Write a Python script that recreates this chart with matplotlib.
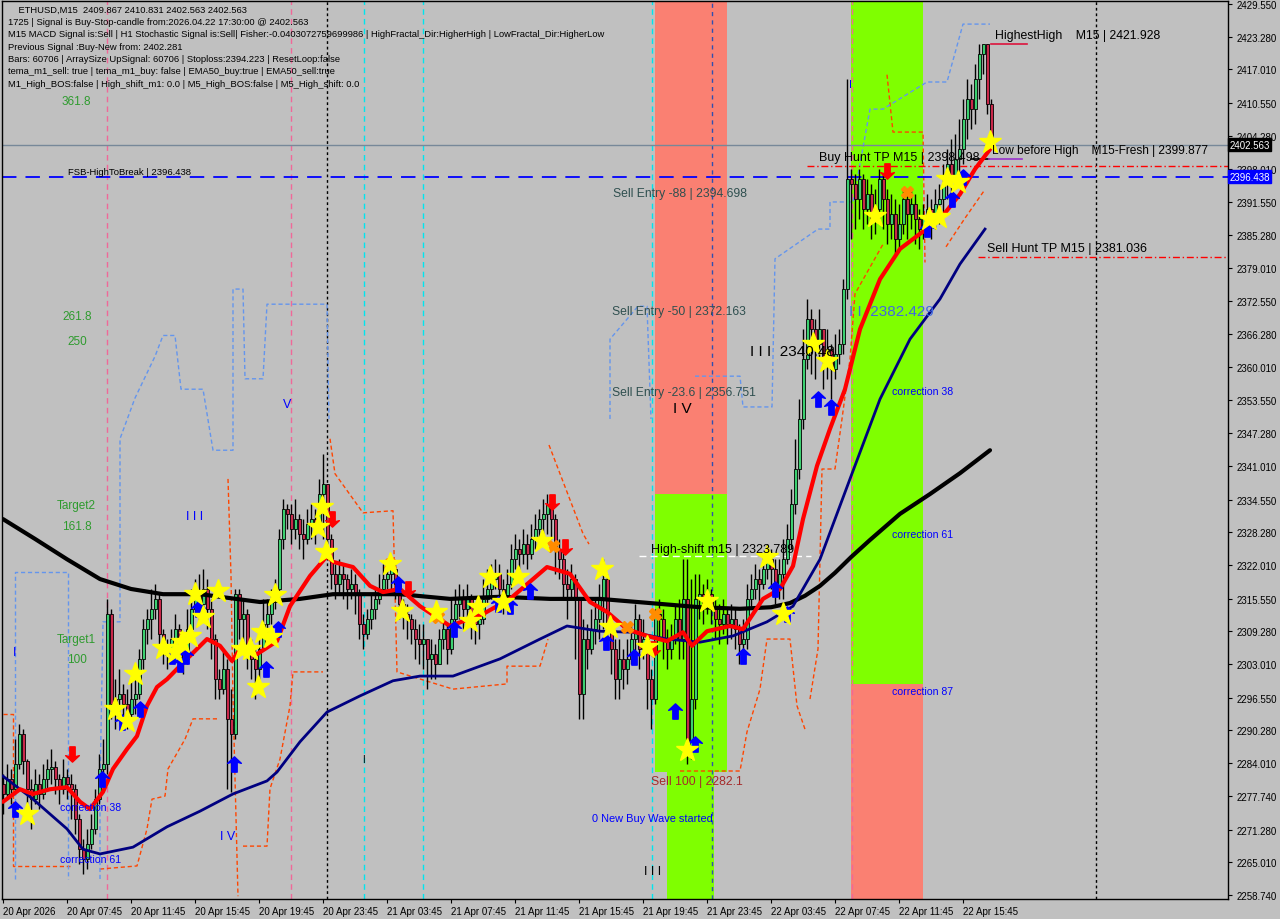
import matplotlib
matplotlib.use("Agg")
import matplotlib.pyplot as plt
from matplotlib.path import Path
import numpy as np

# ---------------- data ----------------
first_open = 2280.0
close = [2278.1,2281.0,2279.0,2283.8,2289.6,2284.4,2279.0,2277.1,2280.0,2278.1,2281.0,2282.9,2283.3,2281.0,2279.0,2281.4,
2280.0,2279.0,2273.3,2267.5,2265.6,2268.5,2271.4,2277.1,2282.9,2283.8,2312.6,2295.3,2296.3,2297.3,2295.3,2293.4,
2296.3,2297.3,2304.0,2309.7,2311.6,2313.6,2315.5,2308.8,2305.9,2304.9,2307.8,2309.7,2306.9,2304.0,2309.7,2313.6,
2316.4,2314.5,2317.4,2313.6,2307.8,2300.1,2298.2,2302.1,2292.5,2289.6,2316.4,2311.6,2312.6,2305.9,2304.0,2302.1,
2305.9,2310.7,2312.6,2315.5,2317.4,2327.0,2332.7,2331.8,2328.9,2330.8,2327.9,2327.0,2329.9,2330.8,2329.9,2335.6,
2337.5,2327.0,2320.3,2318.4,2320.3,2319.3,2317.4,2318.4,2316.4,2310.7,2308.8,2311.6,2313.6,2315.5,2317.4,2319.3,
2320.3,2321.2,2318.4,2314.5,2312.6,2311.6,2309.7,2307.8,2306.9,2307.8,2304.0,2304.9,2303.0,2307.8,2309.7,2305.9,
2311.6,2314.5,2315.5,2313.6,2315.5,2312.6,2310.7,2311.6,2315.5,2317.4,2319.3,2320.3,2317.4,2315.5,2318.4,2323.1,
2325.1,2324.1,2326.0,2324.1,2327.0,2328.9,2330.8,2331.8,2333.7,2330.8,2325.1,2323.1,2318.4,2317.4,2319.3,2315.5,
2297.3,2307.8,2305.9,2309.7,2311.6,2315.5,2319.3,2309.7,2305.9,2300.1,2304.0,2302.1,2304.0,2307.8,2311.6,2305.9,
2307.8,2300.1,2296.3,2312.6,2311.6,2307.8,2305.9,2307.8,2311.6,2307.8,2315.5,2286.7,2296.3,2315.5,2316.4,2314.5,
2316.4,2313.6,2311.6,2310.7,2312.6,2310.7,2311.6,2309.7,2306.9,2307.8,2315.5,2317.4,2319.3,2318.4,2321.2,2323.1,
2321.2,2317.4,2320.3,2323.1,2327.0,2333.7,2340.4,2350.0,2361.5,2369.2,2367.2,2364.4,2367.2,2361.5,2363.4,2359.6,
2362.4,2364.4,2374.9,2396.0,2395.0,2392.2,2396.0,2390.2,2393.1,2388.3,2390.2,2396.0,2392.2,2387.4,2389.3,2384.5,
2387.4,2392.2,2389.3,2391.2,2388.3,2386.4,2388.3,2390.2,2389.3,2391.2,2392.2,2395.0,2398.9,2396.0,2399.8,2401.7,
2407.5,2411.3,2409.4,2415.2,2420.0,2421.9,2410.4,2402.6]
high = [2281.9,2283.8,2282.9,2288.6,2291.5,2290.5,2284.8,2281.0,2282.9,2281.9,2283.8,2284.8,2286.7,2284.4,2281.9,2284.8,
2282.9,2281.9,2280.0,2274.3,2269.5,2271.4,2274.3,2279.0,2285.8,2288.6,2315.5,2313.6,2300.1,2302.1,2299.2,2298.2,
2300.1,2301.1,2305.9,2311.6,2313.6,2317.4,2318.4,2316.4,2309.7,2307.8,2309.7,2312.6,2310.7,2307.8,2313.6,2317.4,
2319.3,2320.3,2321.2,2319.3,2315.5,2308.8,2302.1,2305.9,2304.0,2298.2,2317.4,2317.4,2315.5,2313.6,2307.8,2305.9,
2309.7,2315.5,2315.5,2317.4,2319.3,2328.9,2334.7,2333.7,2333.7,2334.7,2331.8,2330.8,2332.7,2333.7,2332.7,2338.5,
2343.3,2337.5,2327.9,2322.2,2323.1,2322.2,2320.3,2321.2,2320.3,2317.4,2312.6,2313.6,2316.4,2317.4,2320.3,2322.2,
2323.1,2323.1,2322.2,2319.3,2315.5,2314.5,2312.6,2311.6,2310.7,2310.7,2307.8,2307.8,2306.9,2309.7,2311.6,2310.7,
2315.5,2317.4,2318.4,2317.4,2318.4,2316.4,2314.5,2315.5,2319.3,2321.2,2322.2,2323.1,2322.2,2319.3,2321.2,2326.0,
2327.9,2327.0,2328.9,2327.9,2329.9,2331.8,2332.7,2334.7,2335.6,2334.7,2331.8,2327.0,2325.1,2321.2,2322.2,2320.3,
2315.5,2311.6,2310.7,2313.6,2315.5,2318.4,2323.1,2320.3,2311.6,2307.8,2307.8,2305.9,2307.8,2310.7,2314.5,2312.6,
2311.6,2308.8,2302.1,2313.6,2315.5,2313.6,2309.7,2310.7,2314.5,2315.5,2323.1,2323.1,2319.3,2320.3,2320.3,2318.4,
2319.3,2317.4,2315.5,2314.5,2315.5,2313.6,2314.5,2313.6,2310.7,2311.6,2318.4,2320.3,2322.2,2321.2,2324.1,2326.0,
2325.1,2323.1,2323.1,2327.0,2329.9,2336.6,2346.2,2353.8,2367.2,2373.0,2371.1,2369.2,2371.1,2366.3,2367.2,2364.4,
2366.3,2367.2,2376.8,2415.2,2397.9,2397.0,2397.9,2397.0,2396.0,2395.0,2394.1,2397.9,2397.0,2394.1,2393.1,2392.2,
2391.2,2394.1,2393.1,2394.1,2393.1,2390.2,2391.2,2393.1,2392.2,2394.1,2395.0,2398.9,2401.7,2403.7,2404.6,2407.5,
2411.3,2415.2,2414.2,2418.0,2421.9,2421.9,2421.9,2411.3]
low = [2274.3,2277.1,2276.2,2278.1,2282.9,2281.9,2273.3,2271.4,2276.2,2275.2,2277.1,2279.0,2280.0,2278.1,2276.2,2278.1,
2277.1,2273.3,2270.4,2264.7,2262.8,2263.7,2267.5,2270.4,2276.2,2281.0,2281.9,2292.5,2290.5,2293.4,2291.5,2290.5,
2292.5,2293.4,2296.3,2302.1,2306.9,2307.8,2311.6,2305.9,2303.0,2302.1,2304.0,2305.9,2303.0,2301.1,2303.0,2307.8,
2312.6,2310.7,2313.6,2309.7,2304.0,2296.3,2296.3,2297.3,2279.0,2278.5,2288.6,2307.8,2305.9,2302.1,2300.1,2296.3,
2300.1,2305.9,2307.8,2310.7,2313.6,2315.5,2325.1,2328.9,2326.0,2327.0,2325.1,2323.1,2326.0,2327.0,2326.0,2328.9,
2327.0,2323.1,2317.4,2315.5,2316.4,2315.5,2313.6,2315.5,2312.6,2307.8,2305.9,2307.8,2309.7,2311.6,2314.5,2316.4,
2317.4,2317.4,2315.5,2311.6,2309.7,2307.8,2306.9,2304.0,2303.0,2302.1,2298.2,2300.1,2300.1,2303.0,2305.9,2303.0,
2304.9,2310.7,2311.6,2309.7,2311.6,2307.8,2306.9,2307.8,2310.7,2314.5,2315.5,2317.4,2314.5,2312.6,2314.5,2317.4,
2321.2,2320.3,2322.2,2321.2,2323.1,2325.1,2326.0,2327.0,2327.9,2327.0,2320.3,2319.3,2315.5,2311.6,2315.5,2304.0,
2292.5,2292.5,2302.1,2304.9,2306.9,2307.8,2309.7,2305.9,2301.1,2296.3,2296.3,2298.2,2299.2,2303.0,2304.0,2302.1,
2304.0,2294.4,2290.5,2295.3,2307.8,2304.0,2302.1,2304.0,2306.9,2304.0,2304.0,2283.8,2284.8,2294.4,2311.6,2310.7,
2312.6,2310.7,2307.8,2306.9,2308.8,2306.9,2307.8,2305.9,2303.0,2304.0,2305.9,2313.6,2315.5,2314.5,2317.4,2319.3,
2317.4,2314.5,2315.5,2315.5,2322.2,2325.1,2331.8,2338.5,2348.1,2359.6,2358.6,2357.7,2361.5,2355.7,2357.7,2353.8,
2357.7,2360.5,2362.4,2373.0,2384.5,2386.4,2388.3,2386.4,2387.4,2384.5,2385.5,2387.4,2386.4,2383.5,2384.5,2381.6,
2382.6,2385.5,2384.5,2386.4,2383.5,2382.6,2384.5,2385.5,2384.5,2386.4,2387.4,2389.3,2392.2,2392.2,2394.1,2397.0,
2398.9,2403.7,2405.6,2406.5,2411.3,2416.1,2408.5,2401.7]

# moving averages read at sample bars
red_ma_bar = [0,4.25,7.5,11.75,16,19.25,21.75,25,27.5,31,33.5,36,38.5,41,46,51,54.25,57.25,59.25,63.5,68.5,71.75,76.75,81,82.5,87.5,91.75,95,99.25,104.25,111.75,120,126.75,136,141.75,146.75,151,156,161,166,170,172.25,176,181.75,185,190,194.25,197.5,200,203.5,206.75,210.5,214.25,219.25,224.25,229.25,234.25,239.25,243,246.75]
red_ma_val = [2276.6,2279.0,2278.1,2279.0,2279.4,2276.6,2275.2,2278.5,2282.9,2286.7,2289.2,2295.0,2298.6,2300.1,2304.0,2307.8,2306.5,2303.6,2305.9,2304.9,2307.4,2314.1,2319.9,2323.7,2322.6,2321.6,2318.0,2316.8,2317.4,2314.1,2310.3,2312.6,2315.5,2321.6,2320.3,2314.9,2313.0,2309.7,2308.4,2307.4,2309.1,2306.5,2309.3,2310.3,2309.7,2315.5,2317.4,2321.8,2330.8,2341.0,2348.1,2355.7,2367.2,2376.8,2382.6,2385.5,2388.3,2393.1,2397.9,2401.7]
navy_ma_bar = [0,7.5,16,20,24.25,32.5,41,49.25,57.5,66,68.5,74.25,81,89.25,97.5,104.25,112.5,124.25,134.25,141,149.25,157.5,166,174.25,182.5,191,197.5,204.25,211.75,219.25,226.75,234.25,239.25,245.5]
navy_ma_val = [2281.5,2277.1,2271.4,2267.5,2266.6,2267.9,2271.8,2274.8,2278.1,2280.6,2282.3,2288.1,2293.8,2296.9,2299.8,2300.7,2300.7,2304.0,2307.8,2310.3,2309.3,2309.1,2307.8,2307.2,2308.4,2311.1,2314.1,2323.1,2338.5,2353.8,2365.3,2373.0,2379.7,2386.4]
black_ma_bar = [0,8,16,24.25,32,40,49.25,64.25,74.25,82.5,99.25,111.75,124.25,136.75,149.25,161.75,174.25,184.25,192,196.75,200.5,204.25,208,212,216.75,224.25,231.75,239.25,246.75]
black_ma_val = [2330.8,2327.0,2323.1,2319.3,2317.4,2316.4,2316.4,2314.9,2315.5,2316.4,2316.4,2315.5,2315.9,2315.5,2315.5,2314.7,2313.9,2313.6,2313.9,2314.7,2316.1,2318.0,2320.5,2323.5,2326.8,2331.8,2335.6,2339.6,2344.0]

# step bands (bar, price)
orange_paths = [
    [(0,2293.4),(2.5,2293.4),(2.5,2264.3),(16.75,2264.3)],
    [(24.25,2263.7),(33.5,2264.3),(36,2271.4),(37.25,2277.1),(40.5,2277.7),(41.25,2282.9),(45.5,2288.6),(47.5,2292.5),(53.5,2292.5)],
    [(56.25,2338.5),(57.0,2320.0),(57.5,2296.3),(58.75,2258.5)],
    [(60,2268.1),(66,2268.1),(66.75,2279.1),(69.25,2284.8),(71.75,2295.0),(72.5,2301.5),(80,2301.5)],
    [(81.75,2346.2),(83,2339.5),(90,2332.0),(97.5,2332.4),(98.5,2301.5),(112.5,2298.2),(126,2299.2),(126,2302.6),(134.25,2302.6),(136.25,2307.8)],
    [(136.5,2345.0),(140,2338.0),(145,2328.0),(146.5,2326.0)],
    [(169.25,2282.5),(184.25,2282.5),(186,2290.0),(189.25,2298.2),(191,2307.8),(196.75,2307.8),(198.5,2295.0),(200.5,2290.5)],
    [(201.75,2296.3),(203.75,2305.9),(204.75,2340.4),(208,2340.4),(209.75,2350.0),(211.75,2361.5),(213,2374.0),(220,2383.5)],
    [(221,2416.0),(222.5,2405.0),(224,2405.0),(230,2405.0),(230.5,2380.0)],
    [(235.75,2383.0),(240.5,2388.5),(245.5,2394.0)],
]
blue_paths = [
    [(3,2261.8),(3,2320.7),(16.25,2320.7),(16.25,2261.8)],
    [(24.25,2261.8),(24.25,2279.6),(25,2311.1),(29.25,2311.1),(29.25,2346.2),(33,2354.0),(38,2362.0),(40,2366.0),(43,2366.0),(44.5,2355.7),(50,2355.7),(52.5,2344.0),(57.5,2344.0),(57.5,2374.9),(60,2374.9),(60.5,2357.7),(65,2357.7),(66,2372.0),(81,2372.0),(81.5,2350.0)],
    [(151.75,2350.0),(151.75,2365.3),(158.75,2371.6),(161,2371.6),(162,2350.0)],
    [(173,2358.2),(184.25,2358.2),(185,2352.3),(192.25,2352.3),(193,2380.7),(203.75,2386.4),(206.75,2386.4),(206.75,2391.6),(212.5,2391.6),(216.75,2409.4),(220,2409.4),(231,2414.6),(236,2414.6),(240,2425.7),(246.75,2425.7)],
]

stars_bar = [6,28,31,33,40,43,44.75,46.75,48,50,53.75,59.75,61.75,63.75,64.75,67,68,78.75,79.75,80.75,96.75,99.75,108.25,116.75,118.75,121.75,125,128.75,134.75,149.75,151.75,161,171,176,191,195,202.5,206,218,231.5,234,236,238.75,246.75]
stars_val = [2274.3,2294.4,2292.1,2301.1,2306.0,2305.4,2307.2,2308.4,2316.4,2312.0,2317.0,2305.9,2305.9,2298.6,2309.1,2308.2,2316.2,2329.3,2333.1,2324.5,2322.2,2313.2,2313.0,2311.3,2314.0,2319.7,2314.9,2319.7,2326.6,2321.2,2310.1,2306.3,2286.5,2315.1,2323.5,2312.6,2364.4,2361.1,2388.9,2388.3,2388.7,2396.0,2395.4,2403.1]
up_bar = [3,24.75,29.75,34.25,42.25,44.25,45.75,48.75,57.75,65.75,68.75,98.75,112.75,123.75,126.75,131.75,150.75,157.75,168,173,185,193,196,203.75,207,231,237.25,240]
up_val = [2275.2,2281.0,2291.9,2294.4,2304.6,2303.0,2304.6,2313.6,2283.8,2302.1,2309.7,2318.4,2309.7,2314.5,2314.1,2317.0,2307.2,2304.4,2294.0,2287.7,2304.6,2317.4,2312.6,2353.8,2352.3,2386.4,2392.2,2396.4]
down_bar = [17.25,82.25,137.25,140.5,101.25,162.5,221]
down_val = [2285.8,2330.8,2334.1,2325.4,2317.4,2305.9,2397.5]
x_bar = [96.75,108.75,137.5,156,163,226]
x_val = [2322.2,2312.0,2325.7,2310.1,2312.6,2393.5]

yticks = [2429.550,2423.280,2417.010,2410.550,2404.280,2398.010,2391.550,2385.280,2379.010,2372.550,2366.280,
          2360.010,2353.550,2347.280,2341.010,2334.550,2328.280,2322.010,2315.550,2309.280,2303.010,2296.550,
          2290.280,2284.010,2277.740,2271.280,2265.010,2258.740]
xtick_bars = [0,16,32,48,64,80,96,112,128,144,160,176,192,208,224,240]
xtick_labels = ["20 Apr 2026","20 Apr 07:45","20 Apr 11:45","20 Apr 15:45","20 Apr 19:45","20 Apr 23:45",
                "21 Apr 03:45","21 Apr 07:45","21 Apr 11:45","21 Apr 15:45","21 Apr 19:45","21 Apr 23:45",
                "22 Apr 03:45","22 Apr 07:45","22 Apr 11:45","22 Apr 15:45"]

info_lines = [
    "    ETHUSD,M15  2409.867 2410.831 2402.563 2402.563",
    "1725 | Signal is Buy-Stop-candle from:2026.04.22 17:30:00 @ 2402.563",
    "M15 MACD Signal is:Sell | H1 Stochastic Signal is:Sell| Fisher:-0.0403072759699986 | HighFractal_Dir:HigherHigh | LowFractal_Dir:HigherLow",
    "Previous Signal :Buy-New from: 2402.281",
    "Bars: 60706 | ArraySize UpSignal: 60706 | Stoploss:2394.223 | ResetLoop:false",
    "tema_m1_sell: true | tema_m1_buy: false | EMA50_buy:true | EMA50_sell:true",
    "M1_High_BOS:false | High_shift_m1: 0.0 | M5_High_BOS:false | M5_High_shift: 0.0",
]

bid = 2402.563
fsb = 2396.438
buy_tp = 2398.498
sell_tp = 2381.036
high_shift = 2323.789
highest_high = 2421.928
low_before_high = 2399.877

# ---------------- figure ----------------
BG = "#C0C0C0"
FONT = "Liberation Sans"
fig = plt.figure(figsize=(12.8, 9.2), dpi=100, facecolor=BG)
ax = fig.add_axes([2/1280, 20/920, 1226/1280, 898/920])
ax.set_facecolor(BG)
XMIN, XMAX = -0.25, 306.25
YMIN, YMAX = 2257.96, 2430.13
ax.set_xlim(XMIN, XMAX)
ax.set_ylim(YMIN, YMAX)

# rectangles
def rect(x0, x1, y0, y1, c):
    ax.fill_between([x0, x1], [y0, y0], [y1, y1], color=c, lw=0, zorder=0.5)
rect(163, 181, 2335.6, YMAX, "#FA8072")
rect(163, 181, 2282.3, 2335.6, "#7FFF00")
rect(166, 177.75, YMIN, 2282.3, "#7FFF00")
rect(212, 230, 2299.2, YMAX, "#7FFF00")
rect(212, 230, YMIN, 2299.2, "#FA8072")

# vertical lines
for b in [26, 72, 212.25]:
    ax.axvline(b, color="#F06898", lw=1, ls=(0, (4, 3)), zorder=1)
for b in [90.25, 105, 162.25]:
    ax.axvline(b, color="#00E5EE", lw=1, ls=(0, (4, 3)), zorder=1)
for b in [81, 273.25]:
    ax.axvline(b, color="black", lw=1, ls=(0, (2, 2)), zorder=1)
ax.axvline(177.25, color="#3050B0", lw=1, ls=(0, (3, 3)), zorder=1)

# band step lines
for p in orange_paths:
    xs, ys = zip(*p)
    ax.plot(xs, ys, color="#FF4500", lw=1, ls=(0, (3, 2)), zorder=1.5)
for p in blue_paths:
    xs, ys = zip(*p)
    ax.plot(xs, ys, color="#6495ED", lw=1, ls=(0, (3, 2)), zorder=1.5)

# horizontal lines
ax.axhline(bid, color="#778899", lw=1, zorder=1.6)
ax.axhline(fsb, color="#0000FF", lw=1.3, ls=(0, (8, 5)), zorder=1.6)
ax.plot([201, XMAX], [buy_tp, buy_tp], color="#FF0000", lw=1, ls=(0, (5, 2, 1, 2)), zorder=1.6)
ax.plot([243.75, XMAX], [sell_tp, sell_tp], color="#FF0000", lw=1, ls=(0, (5, 2, 1, 2)), zorder=1.6)
ax.plot([159, 202], [high_shift, high_shift], color="white", lw=1, ls=(0, (5, 3)), zorder=1.6)
ax.plot([247, 256], [highest_high, highest_high], color="#DC143C", lw=1.2, zorder=1.6)
ax.plot([242, 246.5], [low_before_high, low_before_high], color="black", lw=1.2, zorder=1.6)
ax.plot([246.5, 254.75], [low_before_high, low_before_high], color="#9932CC", lw=1.2, zorder=1.6)

# candles
n = len(close)
idx = np.arange(n)
opens = [first_open] + close[:-1]
ax.vlines(idx, low, high, color="black", lw=1, zorder=2)
up = [c >= o for c, o in zip(close, opens)]
bottoms = [min(o, c) for o, c in zip(opens, close)]
heights = [max(abs(c - o), 0.25) for o, c in zip(opens, close)]
colors = ["#3CD070" if u else "#C8284A" for u in up]
ax.bar(idx, heights, bottom=bottoms, width=0.75, color=colors, edgecolor="black", linewidth=0.6, zorder=2.1)

# moving averages
ax.plot(black_ma_bar, black_ma_val, color="black", lw=3, zorder=3, solid_capstyle="round", solid_joinstyle="round")
ax.plot(navy_ma_bar, navy_ma_val, color="#000080", lw=2, zorder=3.1)
ax.plot(red_ma_bar, red_ma_val, color="#FF0000", lw=3, zorder=3.2, solid_capstyle="round", solid_joinstyle="round")

# markers
arrow_up = Path([(0, 1), (0.9, 0.15), (0.35, 0.3), (0.35, -1), (-0.35, -1), (-0.35, 0.3), (-0.9, 0.15), (0, 1)],
                [Path.MOVETO] + [Path.LINETO] * 6 + [Path.CLOSEPOLY])
arrow_dn = Path([(x, -y) for x, y in arrow_up.vertices], arrow_up.codes)
ax.plot(up_bar, up_val, ls="none", marker=arrow_up, ms=11, color="#0000FF", zorder=4)
ax.plot(down_bar, down_val, ls="none", marker=arrow_dn, ms=11, color="#FF0000", zorder=4)
ax.plot(x_bar, x_val, ls="none", marker="X", ms=9, color="#FF8C00", zorder=4)
ax.plot(stars_bar, stars_val, ls="none", marker="*", ms=17, color="#FFFF00", mec="#FFFF00", zorder=4.2)

# annotations
def t(x, y, s, c="black", size=9.0, **kw):
    ax.text(x, y, s, color=c, fontsize=size, family=FONT, va="center", ha=kw.pop("ha", "left"), zorder=5, **kw)

t(248, 2423.6, "HighestHigh    M15 | 2421.928", size=8.8)
t(247.25, 2401.6, "Low before High    M15-Fresh | 2399.877", size=8.6)
t(204, 2400.2, "Buy Hunt TP M15 | 2398.498", size=9.0)
t(246, 2382.8, "Sell Hunt TP M15 | 2381.036", size=9.0)
t(16.25, 2397.5, "FSB-HighToBreak | 2396.438", size=6.8)
t(152.5, 2393.3, "Sell Entry -88 | 2394.698", c="#2F4F4F", size=8.7)
t(152.25, 2370.7, "Sell Entry -50 | 2372.163", c="#2F4F4F", size=8.7)
t(152.25, 2355.2, "Sell Entry -23.6 | 2356.751", c="#2F4F4F", size=8.7)
t(167.5, 2352.1, "I V", size=11)
t(186.75, 2363.0, "I I I  2340.48", size=11)
t(211.5, 2370.7, "I I  2382.429", c="#4169E1", size=11)
t(222.25, 2355.4, "correction 38", c="#0000FF", size=7.6)
t(222.25, 2328.0, "correction 61", c="#0000FF", size=7.6)
t(222.25, 2297.9, "correction 87", c="#0000FF", size=7.6)
t(14.25, 2275.6, "correction 38", c="#0000FF", size=7.6)
t(14.25, 2265.6, "correction 61", c="#0000FF", size=7.6)
t(147.25, 2273.5, "0 New Buy Wave started", c="#0000FF", size=7.9)
t(162, 2280.6, "Sell 100 | 2282.1", c="#A52A2A", size=8.8)
t(162, 2325.1, "High-shift m15 | 2323.789", size=9.0)
G = "#2E9B2E"
t(14.75, 2411.0, "361.8", c=G, size=8.5)
t(14.75, 2369.7, "261.8", c=G, size=8.5)
t(16, 2365.0, "250", c=G, size=8.5)
t(13.5, 2333.5, "Target2", c=G, size=8.5)
t(14.75, 2329.5, "161.8", c=G, size=8.5)
t(13.5, 2307.9, "Target1", c=G, size=8.5)
t(16, 2304.0, "100", c=G, size=8.5)
t(3, 2305.3, "I", c="#0000FF", size=9, ha="center")
t(48, 2331.4, "I I I", c="#0000FF", size=9, ha="center")
t(71, 2352.9, "V", c="#0000FF", size=9, ha="center")
t(56.25, 2270.0, "I V", c="#0000FF", size=9, ha="center")
t(162.5, 2263.3, "I I I", size=9, ha="center")
t(90, 2284.8, "I", size=7, ha="center")
t(211.75, 2414.2, "I", c="#0000FF", size=8, ha="center")

# info text
for i, s in enumerate(info_lines):
    fig.text(8/1280, 1 - (10 + 12.4 * i)/920, s, fontsize=6.75, family=FONT, color="black", va="center", ha="left")

# axes styling
for sp in ["left", "top", "bottom", "right"]:
    ax.spines[sp].set_color("black")
    ax.spines[sp].set_linewidth(1)
ax.yaxis.tick_right()
ax.set_yticks(yticks)
ax.set_yticklabels([f"{v:.3f}" for v in yticks], fontsize=7, family=FONT)
ax.tick_params(axis="y", direction="out", length=3, pad=3, colors="black")
ax.set_xticks(xtick_bars)
ax.set_xticklabels(xtick_labels, fontsize=7, family=FONT, ha="left")
ax.tick_params(axis="x", direction="out", length=3, pad=2, colors="black")
for lab in ax.get_xticklabels():
    lab.set_horizontalalignment("left")

# price boxes
for val, fc in [(bid, "black"), (fsb, "#0000FF")]:
    ax.text(XMAX + 0.3, val, f"{val:.3f}", transform=ax.transData, fontsize=7, family=FONT, color="white",
            va="center", ha="left", zorder=6, clip_on=False,
            bbox=dict(boxstyle="square,pad=0.15", fc=fc, ec=fc))

fig.savefig("out.png", dpi=100, facecolor=BG)
